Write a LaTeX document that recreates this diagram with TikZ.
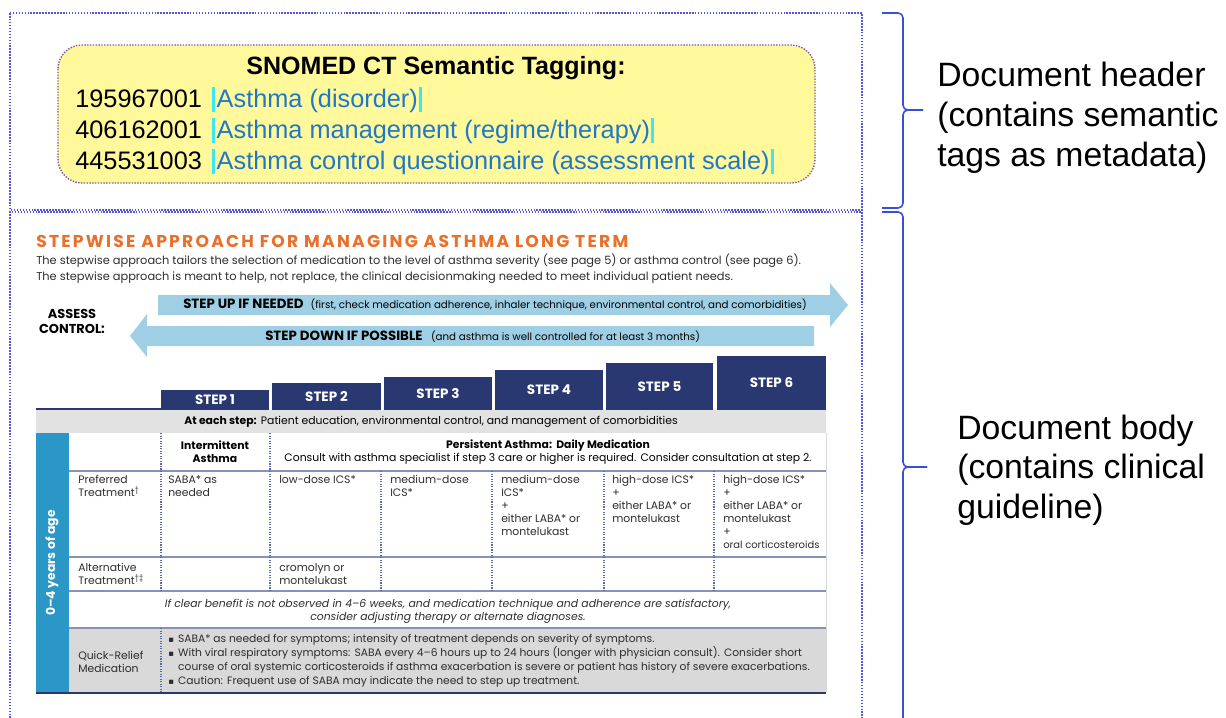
\documentclass[tikz,border=0pt]{standalone}
\usepackage{fontspec}
\setmainfont{Liberation Sans}
\newfontfamily\guidefont{Poppins}
\newfontfamily\titlefont[LetterSpace=13]{Poppins}
\newfontfamily\symfont{DejaVu Sans}
\usetikzlibrary{positioning}

\definecolor{boxblue}{RGB}{85,85,221}
\definecolor{tagpurple}{RGB}{126,87,168}
\definecolor{tagyellow}{RGB}{255,249,156}
\definecolor{termblue}{RGB}{31,120,198}
\definecolor{barcyan}{RGB}{62,230,242}
\definecolor{bracecol}{RGB}{58,79,216}
\definecolor{titleorange}{RGB}{232,112,42}
\definecolor{arrowblue}{RGB}{158,207,229}
\definecolor{stepnavy}{RGB}{42,56,114}
\definecolor{bandgray}{RGB}{226,226,226}
\definecolor{agecol}{RGB}{42,151,198}
\definecolor{reliefgray}{RGB}{217,217,217}
\definecolor{rowrulecol}{RGB}{138,144,184}
\definecolor{colrulecol}{RGB}{90,106,168}
\definecolor{guidetext}{RGB}{45,45,45}

\newcommand{\tagbar}{\textcolor{barcyan}{\rule[-0.18em]{2pt}{1.0em}}}
\newcommand{\tagterm}[1]{\tagbar\hspace{1.5pt}\textcolor{termblue}{#1}\hspace{1pt}\tagbar}
\newcommand{\cellsize}{\fontsize{7.7}{9.2}\selectfont}
\newcommand{\sqbullet}{{\symfont\fontsize{6}{9}\selectfont ▪}\hspace{3pt}}

\tikzset{
  docbox/.style={draw=boxblue, line width=1.1pt, densely dotted},
  tagbox/.style={draw=tagpurple, fill=tagyellow, line width=1pt, densely dotted, rounded corners=0.6cm},
  tagtitle/.style={inner sep=0pt, font=\fontsize{17.8}{21}\selectfont\bfseries},
  tagline/.style={inner sep=0pt, anchor=west, font=\fontsize{18}{21}\selectfont},
  sidenote/.style={inner sep=0pt, anchor=west, align=left, font=\fontsize{24}{28.3}\selectfont},
  bracepath/.style={draw=bracecol, line width=1.1pt, rounded corners=0.12cm},
  guide/.style={inner sep=0pt, text=guidetext, font=\guidefont\cellsize},
  steplabel/.style={inner sep=0pt, text=white, font=\guidefont\fontsize{9.6}{11}\selectfont\bfseries},
  rowrule/.style={draw=rowrulecol, line width=0.9pt},
  colrule/.style={draw=colrulecol, line width=0.8pt, densely dotted},
  cell/.style={guide, anchor=north west, align=left},
}

\begin{document}
\begin{tikzpicture}[x=0.025cm, y=-0.025cm]
\useasboundingbox (0,0) rectangle (1226,718);

% document header
\draw[docbox] (10,13) rectangle (862,210);
\draw[tagbox] (58,45) rectangle (815,183);
\node[tagtitle] (tagtitle) at (436,68) {SNOMED CT Semantic Tagging:};
\node[tagline] (tag1) at (75,100) {195967001\hspace{7pt}\tagterm{Asthma (disorder)}};
\node[tagline] (tag2) at (75,131) {406162001\hspace{7pt}\tagterm{Asthma management (regime/therapy)}};
\node[tagline] (tag3) at (75,162) {445531003\hspace{7pt}\tagterm{Asthma control questionnaire (assessment scale)}};

% document body
\draw[docbox] (10,718) -- (10,212) -- (862,212) -- (862,718);

% braces and notes
\coordinate (hdrtip) at (923,110);
\coordinate (bodytip) at (927,467);
\draw[bracepath] (882,13) -| (903,110) -- (hdrtip);
\draw[bracepath] (hdrtip) -| (903,208) -- (882,208);
\draw[bracepath] (882,212) -| (903,467) -- (bodytip);
\draw[bracepath] (bodytip) -| (903,730) -- (882,730);
\node[sidenote, right=0.35cm of hdrtip, yshift=-0.2cm] (hdrnote) {Document header\\(contains semantic\\tags as metadata)};
\node[sidenote, right=0.75cm of bodytip, yshift=-0.08cm] (bodynote) {Document body\\(contains clinical\\guideline)};

% guideline title
\node[inner sep=0pt, anchor=west, text=titleorange, font=\titlefont\fontsize{12.2}{14}\selectfont\bfseries] (gltitle) at (36,241)
  {STEPWISE APPROACH FOR MANAGING ASTHMA LONG TERM};
\node[guide, anchor=north west, align=left, font=\guidefont\fontsize{8.1}{11.3}\selectfont] (glintro) at (36,254)
  {The stepwise approach tailors the selection of medication to the level of asthma severity (see page 5) or asthma control (see page 6).\\
   The stepwise approach is meant to help, not replace, the clinical decisionmaking needed to meet individual patient needs.};

% step arrows
\node[guide, align=center, font=\guidefont\fontsize{9.2}{10.6}\selectfont\bfseries, text=black] (assess) at (72,321) {ASSESS\\CONTROL:};
\fill[arrowblue] (158,295) -- (830,295) -- (830,283) -- (848,305) -- (830,327) -- (830,315) -- (158,315) -- cycle;
\fill[arrowblue] (814,326) -- (147,326) -- (147,314) -- (130,336) -- (147,357) -- (147,346) -- (814,346) -- cycle;
\node[guide, anchor=west, text=black, font=\guidefont\fontsize{7.3}{9}\selectfont] (stepup) at (183,305)
  {{\fontsize{9.5}{10}\selectfont\bfseries STEP UP IF NEEDED}\hspace{5pt}(first, check medication adherence, inhaler technique, environmental control, and comorbidities)};
\node[guide, anchor=west, text=black, font=\guidefont\fontsize{7.3}{9}\selectfont] (stepdown) at (265,337)
  {{\fontsize{9.5}{10}\selectfont\bfseries STEP DOWN IF POSSIBLE}\hspace{6pt}(and asthma is well controlled for at least 3 months)};

% step boxes
\draw[stepnavy, line width=1pt] (36,409) -- (161,409);
\foreach \i/\xl/\xr/\yt in {1/161/269/390, 2/272/381/383, 3/384/492/377, 4/495/603/370, 5/606/713/363, 6/717/826/356} {
  \fill[stepnavy] (\xl,\yt) rectangle (\xr,410);
  \node[steplabel] (step\i) at ({(\xl+\xr)/2},{(\yt+410)/2}) {STEP \i};
}

% table
\fill[bandgray] (36,410) rectangle (826,433);
\node[guide, text=black] (eachstep) at (431,422) {\textbf{At each step:}\hspace{3pt}Patient education, environmental control, and management of comorbidities};
\fill[agecol] (36,433) rectangle (69,693);
\node[steplabel, rotate=90, font=\guidefont\fontsize{8.8}{10}\selectfont\bfseries] (agelabel) at (52,563) {0–4 years of age};
\fill[reliefgray] (69,628) rectangle (826,692);
\draw[gray!30] (826,433) -- (826,692);
\foreach \y in {471,557,591,628}
  \draw[rowrule] (69,\y) -- (826,\y);
\draw[stepnavy, line width=1.2pt] (36,693) -- (826,693);
\foreach \x in {161,270}
  \draw[colrule] (\x,433) -- (\x,471);
\foreach \x in {161,270,381,492,604,714}
  \draw[colrule] (\x,471) -- (\x,591);
\draw[colrule] (161,628) -- (161,692);

\node[guide, align=center, text=black] (intermit) at (215,452) {\textbf{Intermittent}\\\textbf{Asthma}};
\node[guide, align=center, text=black] (persist) at (548,452)
  {\textbf{Persistent Asthma:\hspace{3pt}Daily Medication}\\Consult with asthma specialist if step 3 care or higher is required.\hspace{3pt}Consider consultation at step 2.};

\node[cell] (preflabel) at (78,475) {Preferred\\Treatment\textsuperscript{†}};
\node[cell] (pref1) at (168,475) {SABA* as\\needed};
\node[cell] (pref2) at (279,475) {low-dose ICS*};
\node[cell] (pref3) at (390,475) {medium-dose\\ICS*};
\node[cell] (pref4) at (501,475) {medium-dose\\ICS*\\+\\either LABA* or\\montelukast};
\node[cell] (pref5) at (612,475) {high-dose ICS*\\+\\either LABA* or\\montelukast};
\node[cell] (pref6) at (723,475) {high-dose ICS*\\+\\either LABA* or\\montelukast\\+\\{\fontsize{7.1}{9.2}\selectfont oral corticosteroids}};

\node[cell] (altlabel) at (78,563) {Alternative\\Treatment\textsuperscript{†‡}};
\node[cell] (alt2) at (279,563) {cromolyn or\\montelukast};

\node[guide, align=center, font=\guidefont\cellsize\itshape] (clearnote) at (448,611)
  {If clear benefit is not observed in 4–6 weeks, and medication technique and adherence are satisfactory,\\consider adjusting therapy or alternate diagnoses.};

\node[guide, anchor=west, align=left] (relieflabel) at (78,662) {Quick-Relief\\Medication};
\node[cell, font=\guidefont\fontsize{7.6}{9.9}\selectfont] (relieftext) at (168,634)
  {\sqbullet SABA* as needed for symptoms; intensity of treatment depends on severity of symptoms.\\
   \sqbullet With viral respiratory symptoms:\hspace{3pt}SABA every 4–6 hours up to 24 hours (longer with physician consult).\hspace{3pt}Consider short\\
   \phantom{\sqbullet}course of oral systemic corticosteroids if asthma exacerbation is severe or patient has history of severe exacerbations.\\
   \sqbullet Caution:\hspace{3pt}Frequent use of SABA may indicate the need to step up treatment.};
\end{tikzpicture}
\end{document}
